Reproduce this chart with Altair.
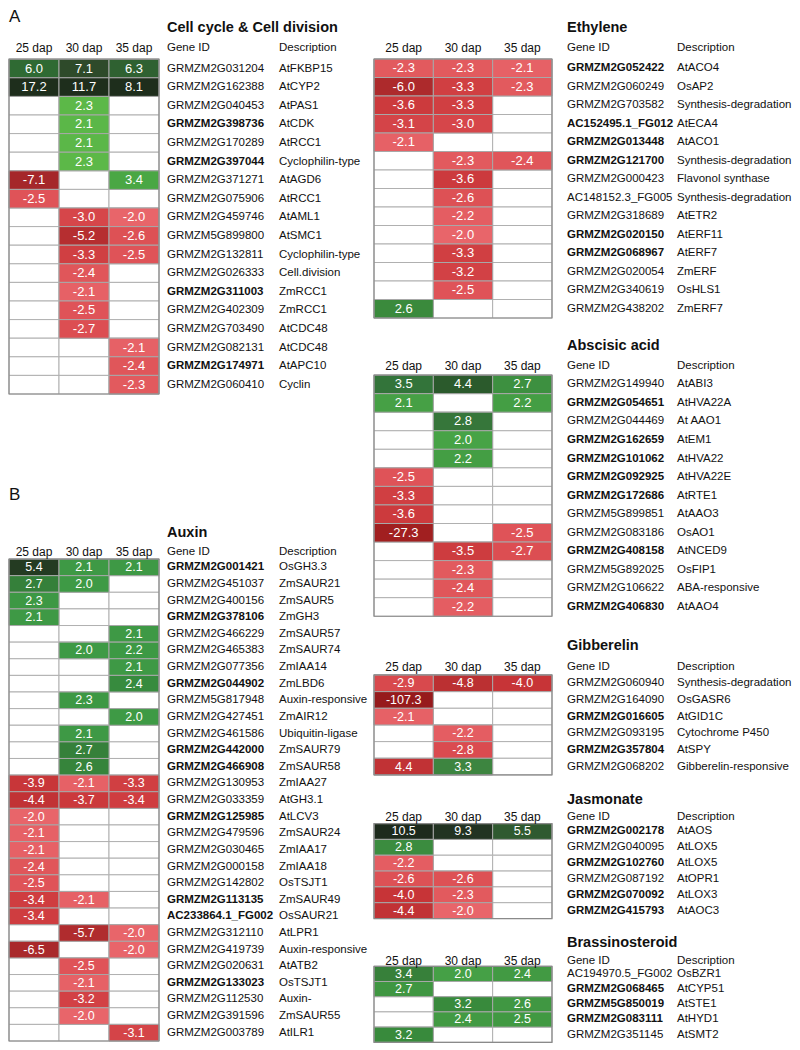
import altair as alt
import pandas as pd

FONT = "Liberation Sans"
DAPS = ["25 dap", "30 dap", "35 dap"]

# ---------------- Cell cycle & Cell division ----------------
cc_genes = ["GRMZM2G031204", "GRMZM2G162388", "GRMZM2G040453", "GRMZM2G398736", "GRMZM2G170289",
            "GRMZM2G397044", "GRMZM2G371271", "GRMZM2G075906", "GRMZM2G459746", "GRMZM5G899800",
            "GRMZM2G132811", "GRMZM2G026333", "GRMZM2G311003", "GRMZM2G402309", "GRMZM2G703490",
            "GRMZM2G082131", "GRMZM2G174971", "GRMZM2G060410"]
cc_desc = ["AtFKBP15", "AtCYP2", "AtPAS1", "AtCDK", "AtRCC1", "Cyclophilin-type", "AtAGD6", "AtRCC1",
           "AtAML1", "AtSMC1", "Cyclophilin-type", "Cell.division", "ZmRCC1", "ZmRCC1", "AtCDC48",
           "AtCDC48", "AtAPC10", "Cyclin"]
cc_bold = ["GRMZM2G398736", "GRMZM2G397044", "GRMZM2G311003", "GRMZM2G174971"]
cc_d25 = [6.0, 17.2, None, None, None, None, -7.1, -2.5, None, None, None, None, None, None, None, None, None, None]
cc_d30 = [7.1, 11.7, 2.3, 2.1, 2.1, 2.3, None, None, -3.0, -5.2, -3.3, -2.4, -2.1, -2.5, -2.7, None, None, None]
cc_d35 = [6.3, 8.1, None, None, None, None, 3.4, None, -2.0, -2.6, -2.5, None, None, None, None, -2.1, -2.4, -2.3]

# ---------------- Auxin ----------------
ax_genes = ["GRMZM2G001421", "GRMZM2G451037", "GRMZM2G400156", "GRMZM2G378106", "GRMZM2G466229",
            "GRMZM2G465383", "GRMZM2G077356", "GRMZM2G044902", "GRMZM5G817948", "GRMZM2G427451",
            "GRMZM2G461586", "GRMZM2G442000", "GRMZM2G466908", "GRMZM2G130953", "GRMZM2G033359",
            "GRMZM2G125985", "GRMZM2G479596", "GRMZM2G030465", "GRMZM2G000158", "GRMZM2G142802",
            "GRMZM2G113135", "AC233864.1_FG002", "GRMZM2G312110", "GRMZM2G419739", "GRMZM2G020631",
            "GRMZM2G133023", "GRMZM2G112530", "GRMZM2G391596", "GRMZM2G003789"]
ax_desc = ["OsGH3.3", "ZmSAUR21", "ZmSAUR5", "ZmGH3", "ZmSAUR57", "ZmSAUR74", "ZmIAA14", "ZmLBD6",
           "Auxin-responsive", "ZmAIR12", "Ubiquitin-ligase", "ZmSAUR79", "ZmSAUR58", "ZmIAA27",
           "AtGH3.1", "AtLCV3", "ZmSAUR24", "ZmIAA17", "ZmIAA18", "OsTSJT1", "ZmSAUR49", "OsSAUR21",
           "AtLPR1", "Auxin-responsive", "AtATB2", "OsTSJT1", "Auxin-", "ZmSAUR55", "AtILR1"]
ax_bold = ["GRMZM2G001421", "GRMZM2G378106", "GRMZM2G044902", "GRMZM2G442000", "GRMZM2G466908",
           "GRMZM2G125985", "GRMZM2G113135", "AC233864.1_FG002", "GRMZM2G133023"]
ax_d25 = [5.4, 2.7, 2.3, 2.1, None, None, None, None, None, None, None, None, None, -3.9, -4.4,
          -2.0, -2.1, -2.1, -2.4, -2.5, -3.4, -3.4, None, -6.5, None, None, None, None, None]
ax_d30 = [2.1, 2.0, None, None, None, 2.0, None, None, 2.3, None, 2.1, 2.7, 2.6, -2.1, -3.7,
          None, None, None, None, None, -2.1, None, -5.7, None, -2.5, -2.1, -3.2, -2.0, None]
ax_d35 = [2.1, None, None, None, 2.1, 2.2, 2.1, 2.4, None, 2.0, None, None, None, -3.3, -3.4,
          None, None, None, None, None, None, None, -2.0, -2.0, None, None, None, None, -3.1]

# ---------------- Ethylene ----------------
et_genes = ["GRMZM2G052422", "GRMZM2G060249", "GRMZM2G703582", "AC152495.1_FG012", "GRMZM2G013448",
            "GRMZM2G121700", "GRMZM2G000423", "AC148152.3_FG005", "GRMZM2G318689", "GRMZM2G020150",
            "GRMZM2G068967", "GRMZM2G020054", "GRMZM2G340619", "GRMZM2G438202"]
et_desc = ["AtACO4", "OsAP2", "Synthesis-degradation", "AtECA4", "AtACO1", "Synthesis-degradation",
           "Flavonol synthase", "Synthesis-degradation", "AtETR2", "AtERF11", "AtERF7", "ZmERF",
           "OsHLS1", "ZmERF7"]
et_bold = ["GRMZM2G052422", "AC152495.1_FG012", "GRMZM2G013448", "GRMZM2G121700", "GRMZM2G020150",
           "GRMZM2G068967"]
et_d25 = [-2.3, -6.0, -3.6, -3.1, -2.1, None, None, None, None, None, None, None, None, 2.6]
et_d30 = [-2.3, -3.3, -3.3, -3.0, None, -2.3, -3.6, -2.6, -2.2, -2.0, -3.3, -3.2, -2.5, None]
et_d35 = [-2.1, -2.3, None, None, None, -2.4, None, None, None, None, None, None, None, None]

# ---------------- Abscisic acid ----------------
ab_genes = ["GRMZM2G149940", "GRMZM2G054651", "GRMZM2G044469", "GRMZM2G162659", "GRMZM2G101062",
            "GRMZM2G092925", "GRMZM2G172686", "GRMZM5G899851", "GRMZM2G083186", "GRMZM2G408158",
            "GRMZM5G892025", "GRMZM2G106622", "GRMZM2G406830"]
ab_desc = ["AtABI3", "AtHVA22A", "At AAO1", "AtEM1", "AtHVA22", "AtHVA22E", "AtRTE1", "AtAAO3",
           "OsAO1", "AtNCED9", "OsFIP1", "ABA-responsive", "AtAAO4"]
ab_bold = ["GRMZM2G054651", "GRMZM2G162659", "GRMZM2G101062", "GRMZM2G092925", "GRMZM2G172686",
           "GRMZM2G408158", "GRMZM2G406830"]
ab_d25 = [3.5, 2.1, None, None, None, -2.5, -3.3, -3.6, -27.3, None, None, None, None]
ab_d30 = [4.4, None, 2.8, 2.0, 2.2, None, None, None, None, -3.5, -2.3, -2.4, -2.2]
ab_d35 = [2.7, 2.2, None, None, None, None, None, None, -2.5, -2.7, None, None, None]

# ---------------- Gibberelin ----------------
gb_genes = ["GRMZM2G060940", "GRMZM2G164090", "GRMZM2G016605", "GRMZM2G093195", "GRMZM2G357804",
            "GRMZM2G068202"]
gb_desc = ["Synthesis-degradation", "OsGASR6", "AtGID1C", "Cytochrome P450", "AtSPY",
           "Gibberelin-responsive"]
gb_bold = ["GRMZM2G016605", "GRMZM2G357804"]
gb_d25 = [-2.9, -107.3, -2.1, None, None, -4.4]
gb_d30 = [-4.8, None, None, -2.2, -2.8, 3.3]
gb_d35 = [-4.0, None, None, None, None, None]
gb_labels = {(5, 0): "4.4"}  # red cell printed as "4.4" in the figure

# ---------------- Jasmonate ----------------
js_genes = ["GRMZM2G002178", "GRMZM2G040095", "GRMZM2G102760", "GRMZM2G087192", "GRMZM2G070092",
            "GRMZM2G415793"]
js_desc = ["AtAOS", "AtLOX5", "AtLOX5", "AtOPR1", "AtLOX3", "AtAOC3"]
js_bold = ["GRMZM2G002178", "GRMZM2G102760", "GRMZM2G070092", "GRMZM2G415793"]
js_d25 = [10.5, 2.8, -2.2, -2.6, -4.0, -4.4]
js_d30 = [9.3, None, None, -2.6, -2.3, -2.0]
js_d35 = [5.5, None, None, None, None, None]

# ---------------- Brassinosteroid ----------------
br_genes = ["AC194970.5_FG002", "GRMZM2G068465", "GRMZM5G850019", "GRMZM2G083111", "GRMZM2G351145"]
br_desc = ["OsBZR1", "AtCYP51", "AtSTE1", "AtHYD1", "AtSMT2"]
br_bold = ["GRMZM2G068465", "GRMZM5G850019", "GRMZM2G083111"]
br_d25 = [3.4, 2.7, None, None, 3.2]
br_d30 = [2.0, None, 3.2, 2.4, None]
br_d35 = [2.4, None, 2.6, 2.5, None]

# ---------------- colour stops ----------------
RED_DOM = [-110, -27, -7, -6, -5, -4, -3.3, -2.8, -2.4, -2.0]
RED_RNG = ["#961a1c", "#a11f20", "#a5272a", "#ad2a2c", "#b82f31", "#c73437", "#d03f42",
           "#da4b50", "#e0565a", "#e8656a"]

CC_GDOM = [2.0, 2.3, 3.4, 6.0, 7.1, 8.0]
CC_GRNG = ["#5ab748", "#5cb848", "#4aa744", "#2f6a33", "#2e4a2a", "#1e2e1c"]
AX_GDOM = [2.0, 2.3, 2.4, 2.7, 5.4]
AX_GRNG = ["#3e9a45", "#3d9844", "#378b3e", "#35803a", "#243b22"]
ET_GDOM = [2.0, 2.6, 4.0]
ET_GRNG = ["#46a046", "#3a8a3c", "#2f6a33"]
AB_GDOM = [2.0, 2.7, 2.8, 3.5, 4.4]
AB_GRNG = ["#47a346", "#3d9040", "#36763a", "#33743a", "#2b5a2c"]
GB_GDOM = [2.0, 3.3]
GB_GRNG = ["#47a346", "#3d8540"]
JS_GDOM = [2.0, 2.8, 5.5, 9.3, 10.5]
JS_GRNG = ["#47a346", "#3b8c3f", "#2f5a30", "#223322", "#1d2a1c"]
BR_GDOM = [2.0, 2.7, 3.2, 3.4]
BR_GRNG = ["#45a046", "#3f9641", "#388a3c", "#37803a"]

TXT = 11.5


def panel(title, genes, descs, bold, v25, v30, v35, rowh, colw, gx, dx, gdom, grng,
          overrides=None, letter=None, letter_y=0, vsize=13, tdy=-3, hdy=-1):
    n = len(genes)
    rows = ["_t", "_h"] + [f"r{i:02d}" for i in range(n)]
    W = 3 * colw
    H = len(rows) * rowh
    cells = []
    for i in range(n):
        for j, vals in enumerate((v25, v30, v35)):
            v = vals[i]
            lab = "" if v is None else f"{v:.1f}"
            if overrides and (i, j) in overrides:
                lab = overrides[(i, j)]
            cells.append(dict(row=rows[i + 2], dap=DAPS[j], value=v, label=lab))
    cdf = pd.DataFrame(cells)
    gdf = pd.DataFrame(dict(row=rows[2:], gene=genes, desc=descs,
                            bold=[g in bold for g in genes]))
    hdf = pd.DataFrame(dict(row=["_h"] * 3, dap=DAPS))
    tdf = pd.DataFrame(dict(row=["_t", "_h", "_h"], t=[title, "Gene ID", "Description"],
                            k=["title", "gene", "desc"]))

    x = alt.X("dap:N", scale=alt.Scale(domain=DAPS, paddingInner=0, paddingOuter=0, round=False),
              axis=None)
    y = alt.Y("row:N", scale=alt.Scale(domain=rows, paddingInner=0, paddingOuter=0, round=False),
              axis=None)

    grid = alt.Chart(cdf).mark_rect(fill="white", stroke="#b0b0b0", strokeWidth=1).encode(x=x, y=y)
    colored = alt.Chart(cdf).transform_filter("isValid(datum.value)").mark_rect(
        stroke="#a8a8a8", strokeWidth=1).encode(
        x=x, y=y,
        color=alt.Color("value:Q", legend=None,
                        scale=alt.Scale(domain=RED_DOM + gdom, range=RED_RNG + grng,
                                        interpolate="rgb", clamp=True)))
    frame = alt.Chart(tdf.head(1)).mark_rect(fill="transparent", stroke="#8a8a8a", strokeWidth=1.2).encode(
        x=alt.value(0), x2=alt.value(W), y=alt.value(2 * rowh), y2=alt.value(H))
    vals = alt.Chart(cdf).transform_filter("isValid(datum.value)").mark_text(
        color="white", fontSize=vsize, font=FONT).encode(x=x, y=y, text="label:N")
    hdr = alt.Chart(hdf).mark_text(fontSize=12, font=FONT, color="#111", dy=hdy).encode(
        x=x, y=y, text="dap:N")
    tit = alt.Chart(tdf).transform_filter("datum.k == 'title'").mark_text(
        align="left", fontSize=14.5, fontWeight="bold", font=FONT, color="#111", dy=tdy).encode(
        x=alt.value(gx), y=y, text="t:N")
    gh = alt.Chart(tdf).transform_filter("datum.k == 'gene'").mark_text(
        align="left", fontSize=TXT, font=FONT, color="#111", dy=hdy).encode(
        x=alt.value(gx), y=y, text="t:N")
    dh = alt.Chart(tdf).transform_filter("datum.k == 'desc'").mark_text(
        align="left", fontSize=TXT, font=FONT, color="#111", dy=hdy).encode(
        x=alt.value(dx), y=y, text="t:N")
    gn = alt.Chart(gdf).transform_filter("!datum.bold").mark_text(
        align="left", fontSize=TXT, font=FONT, color="#111").encode(x=alt.value(gx), y=y, text="gene:N")
    gbd = alt.Chart(gdf).transform_filter("datum.bold").mark_text(
        align="left", fontSize=TXT, font=FONT, fontWeight="bold", color="#111").encode(
        x=alt.value(gx), y=y, text="gene:N")
    ds = alt.Chart(gdf).mark_text(align="left", fontSize=TXT, font=FONT, color="#111").encode(
        x=alt.value(dx), y=y, text="desc:N")
    layers = [grid, colored, frame, vals, hdr, tit, gh, dh, gn, gbd, ds]
    if letter:
        ldf = pd.DataFrame(dict(t=[letter]))
        layers.append(alt.Chart(ldf).mark_text(align="left", baseline="top", fontSize=17, font=FONT,
                                               color="#111").encode(
            x=alt.value(0), y=alt.value(letter_y), text="t:N"))
    return alt.layer(*layers).properties(width=W, height=H)


LCOL, RCOL = 50, 59.33
LGX, LDX = 158, 270
RGX, RDX = 193, 303
cc = panel("Cell cycle & Cell division", cc_genes, cc_desc, cc_bold, cc_d25, cc_d30, cc_d35,
           18.6, LCOL, LGX, LDX, CC_GDOM, CC_GRNG, letter="A", letter_y=-13, tdy=-3.3, hdy=-2)
ax = panel("Auxin", ax_genes, ax_desc, ax_bold, ax_d25, ax_d30, ax_d35,
           16.62, LCOL, LGX, LDX, AX_GDOM, AX_GRNG, letter="B", letter_y=-38.6, vsize=12.5,
           tdy=-1, hdy=1)
et = panel("Ethylene", et_genes, et_desc, et_bold, et_d25, et_d30, et_d35,
           18.5, RCOL, RGX, RDX, ET_GDOM, ET_GRNG, tdy=-3.3, hdy=-2)
ab = panel("Abscisic acid", ab_genes, ab_desc, ab_bold, ab_d25, ab_d30, ab_d35,
           18.55, RCOL, RGX, RDX, AB_GDOM, AB_GRNG, tdy=-1, hdy=0)
gb = panel("Gibberelin", gb_genes, gb_desc, gb_bold, gb_d25, gb_d30, gb_d35,
           16.67, RCOL, RGX, RDX, GB_GDOM, GB_GRNG, overrides=gb_labels, vsize=12.5, tdy=-4, hdy=0)
js = panel("Jasmonate", js_genes, js_desc, js_bold, js_d25, js_d30, js_d35,
           15.83, RCOL, RGX, RDX, JS_GDOM, JS_GRNG, vsize=12.5, tdy=0, hdy=1)
br = panel("Brassinosteroid", br_genes, br_desc, br_bold, br_d25, br_d30, br_d35,
           15.2, RCOL, RGX, RDX, BR_GDOM, BR_GRNG, vsize=12.5, tdy=0, hdy=2)

left = alt.vconcat(cc, ax, spacing=131.8, bounds="flush").resolve_scale(color="independent")

g4 = alt.vconcat(js, br, spacing=17, bounds="flush").resolve_scale(color="independent")
g3 = alt.vconcat(gb, g4, spacing=16.3, bounds="flush").resolve_scale(color="independent")
g2 = alt.vconcat(ab, g3, spacing=24.6, bounds="flush").resolve_scale(color="independent")
right = alt.vconcat(et, g2, spacing=20, bounds="flush").resolve_scale(color="independent")

chart = alt.hconcat(left, right, spacing=365, bounds="flush", padding=0).resolve_scale(
    color="independent").configure_view(strokeWidth=0)

chart.save("out.html", embed_options={"renderer": "svg", "actions": False})
